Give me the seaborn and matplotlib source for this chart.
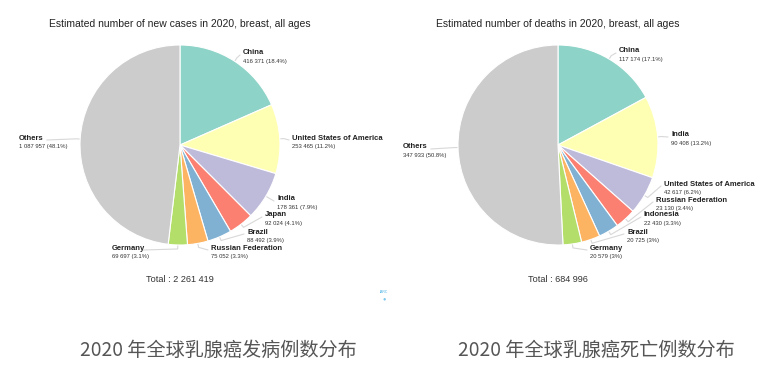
import numpy as np
import matplotlib
matplotlib.use("Agg")
import matplotlib.pyplot as plt
import seaborn as sns

# ---------------- data ----------------
cases_countries = ["China", "United States of America", "India", "Japan", "Brazil",
                   "Russian Federation", "Germany", "Others"]
cases_values = [416371, 253465, 178361, 92024, 88492, 75052, 69697, 1087957]
cases_pct = ["18.4%", "11.2%", "7.9%", "4.1%", "3.9%", "3.3%", "3.1%", "48.1%"]
cases_total = "2 261 419"

deaths_countries = ["China", "India", "United States of America", "Russian Federation",
                    "Indonesia", "Brazil", "Germany", "Others"]
deaths_values = [117174, 90408, 42617, 23130, 22430, 20725, 20579, 347933]
deaths_pct = ["17.1%", "13.2%", "6.2%", "3.4%", "3.3%", "3%", "3%", "50.8%"]
deaths_total = "684 996"

titles = ["Estimated number of new cases in 2020, breast, all ages",
          "Estimated number of deaths in 2020, breast, all ages"]
captions = ["2020 年全球乳腺癌发病例数分布", "2020 年全球乳腺癌死亡例数分布"]

# ---------------- layout (pixels) ----------------
W, H = 771, 369
# label anchor positions (pixel x of left edge, pixel y of name line)
cases_label_px = [(243, 53), (292, 138), (277, 199), (265, 215), (247, 232),
                  (211, 248), (112, 248), (19, 138)]
deaths_label_px = [(619, 51), (671, 135), (664, 184), (656, 200), (644, 215),
                   (627, 232), (590, 248), (403, 147)]

colors = ["#8dd3c7", "#ffffb3", "#bebada", "#fb8072", "#80b1d3", "#fdb462",
          "#b3de69", "#cccccc"]

sns.set_theme(style="white")
plt.rcParams['font.family'] = ['Liberation Sans', 'Noto Sans CJK SC', 'DejaVu Sans']

fig = plt.figure(figsize=(W / 100, H / 100), dpi=100)
fig.patch.set_facecolor("white")

R = 100.0  # pie radius in px
NAME_FS = 5.5


def fmt(v):
    return f"{v:,}".replace(",", " ")


def draw(cx, cy, x0, x1, names, vals, pcts, total, lab_px, title, caption, cap_x):
    ax = fig.add_axes([x0 / W, 0, (x1 - x0) / W, 1])
    ax.axis("off")
    wedges, _ = ax.pie(vals, colors=colors, startangle=90, counterclock=False,
                       radius=1.0, center=(0, 0),
                       wedgeprops=dict(edgecolor="white", linewidth=0.8))
    ax.set_xlim((x0 - cx) / R, (x1 - cx) / R)
    ax.set_ylim(-(H - cy) / R, cy / R)
    ax.set_aspect("auto")

    def px(p):
        return ((p[0] - cx) / R, (cy - p[1]) / R)

    for w, name, v, pct, lp in zip(wedges, names, vals, pcts, lab_px):
        ang = np.deg2rad((w.theta1 + w.theta2) / 2)
        ex, ey = np.cos(ang), np.sin(ang)
        lx, ly = px(lp)
        right = lx > 0
        e2x, e2y = 1.04 * ex, 1.04 * ey
        endx = lx - 0.03 if right else lx + (len(name) * 0.038 + 0.05)
        ax.plot([ex, e2x, endx], [ey, e2y, ly - 0.02], color="#d8d8d8", lw=0.8,
                solid_capstyle="round", zorder=0)
        ax.text(lx, ly, name, fontsize=NAME_FS, fontweight="bold", color="#222222",
                ha="left", va="center")
        ax.text(lx, ly - 0.085, f"{fmt(v)} ({pct})", fontsize=4.2, color="#333333",
                ha="left", va="center")
    ax.text(0, (cy - 24) / R, title, fontsize=7.5, color="#222222",
            ha="center", va="center")
    ax.text(0, (cy - 279) / R, f"Total : {total}", fontsize=6.6, color="#333333",
            ha="center", va="center")
    fig.text(cap_x / W, 1 - 350 / H, caption, fontsize=13.8, color="#555555",
             ha="center", va="center",
             family=['Noto Sans CJK SC', 'DejaVu Sans'])


draw(180, 145, 0, 386, cases_countries, cases_values, cases_pct, cases_total,
     cases_label_px, titles[0], captions[0], 218)
draw(558, 145, 386, 771, deaths_countries, deaths_values, deaths_pct, deaths_total,
     deaths_label_px, titles[1], captions[1], 596)

# small logo mark
fig.text(384 / W, 1 - 292 / H, "IARC", fontsize=2.5, color="#4db3e6",
         ha="center", va="center")
fig.text(384 / W, 1 - 299 / H, "\u25cf", fontsize=4, color="#7cc6ee",
         ha="center", va="center")

fig.savefig("out.png", dpi=100, facecolor="white")
